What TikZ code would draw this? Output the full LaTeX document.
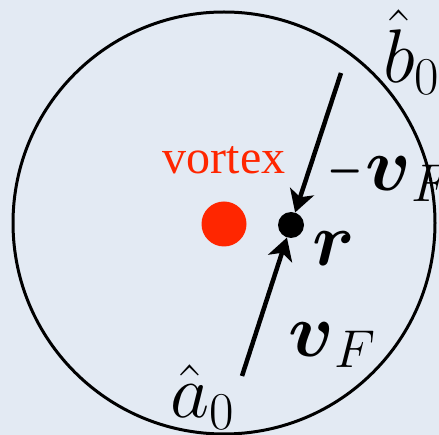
\RequirePackage{fix-cm}
\documentclass[tikz,border=0pt]{standalone}
\usepackage{amsmath}
\usepackage{fontspec}
\setmainfont{Liberation Serif}
\usetikzlibrary{arrows.meta,positioning}
\definecolor{paper}{RGB}{227,234,243}
\definecolor{vortexred}{RGB}{255,38,0}

\begin{document}
\begin{tikzpicture}[x=1pt, y=-1pt,
    dot/.style={circle, fill, inner sep=0pt},
    arr/.style={-{Stealth[length=22pt,width=25pt,inset=6pt]}, line width=4.5pt},
    mlbl/.style={inner sep=0pt, anchor=west, font=\fontsize{76}{76}\selectfont},
  ]
    % --- background ---
    \fill[paper] (0,0) rectangle (439,435);
    \useasboundingbox (0,0) rectangle (439,435);
    \draw[line width=3pt] (224,223) circle[radius=211pt];

    % --- vortex and point r ---
    \node[dot, fill=vortexred, minimum size=45pt] (vortex) at (224,224) {};
    \node[dot, minimum size=26pt] (r) at (291,225) {};
    \node[inner sep=0pt, text=vortexred, font=\fontsize{48}{48}\selectfont]
      (vortex-lbl) at (224,160) {vortex};

    % --- trajectories ---
    \coordinate (b0) at (341,73);
    \coordinate (a0) at (242,376);
    \draw[arr] (b0) -- (r);
    \draw[arr] (a0) -- (r);

    % --- labels ---
    \node[mlbl] (b0-lbl) at (383,52) {$\hat{b}_0$};
    \node[mlbl] (a0-lbl) at (170,397) {$\hat{a}_0$};
    \node[mlbl] (mvF-lbl) at (327,174)
      {\scalebox{0.6}[1]{$-$}\kern3pt$\boldsymbol{v}_F$};
    \node[mlbl] (r-lbl) at (312,249) {$\boldsymbol{r}$};
    \node[mlbl] (vF-lbl) at (288,345) {$\boldsymbol{v}_F$};
\end{tikzpicture}
\end{document}
